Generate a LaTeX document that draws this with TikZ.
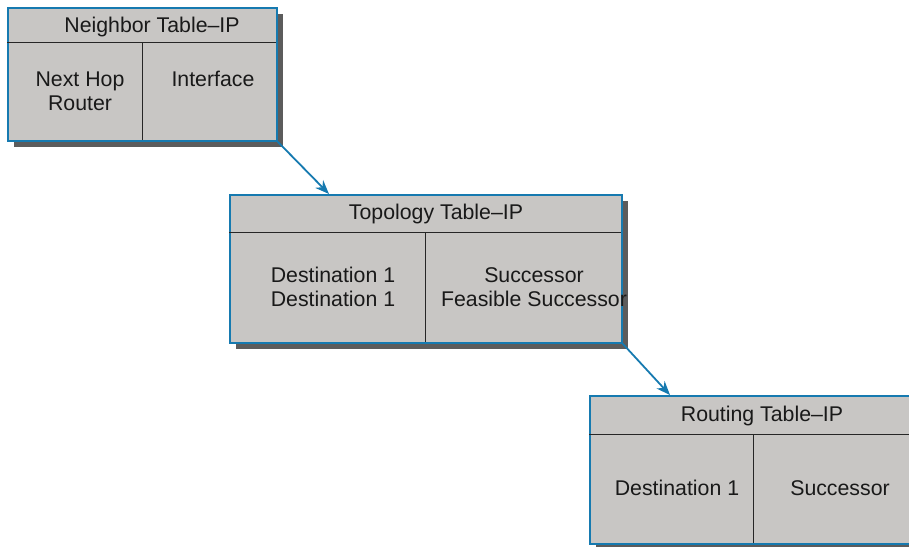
\documentclass[tikz,border=0pt]{standalone}
\usepackage{fontspec}
\setmainfont{Liberation Sans}
\usetikzlibrary{arrows.meta,shadows}
\definecolor{tblfill}{RGB}{200,198,196}
\definecolor{tblshade}{RGB}{92,92,92}
\definecolor{tblblue}{RGB}{22,122,176}

\begin{document}
\begin{tikzpicture}[x=1pt,y={(0pt,-1pt)},
  tbl/.style={draw=tblblue,line width=1.8pt,fill=tblfill,rectangle,inner sep=0pt,anchor=north west,
    drop shadow={shadow xshift=6pt,shadow yshift=-6pt,fill=tblshade,opacity=1}},
  rule/.style={line width=.9pt,black!85},
  lbl/.style={font=\fontsize{21.3}{24}\selectfont,align=center,inner sep=0pt,anchor=base,text=black!90},
  arr/.style={draw=tblblue,line width=1.8pt,-{Stealth[length=14pt,width=11pt]}}]
\clip (0,0) rectangle (909,546);

\node[tbl,minimum width=269pt,minimum height=133pt] (nbr) at (7,7) {};
\draw[rule] (7,42)--(276,42) (142,42)--(142,140);
\node[lbl] (nbrhead) at (152,32) {Neighbor Table--IP};
\node[lbl] (nbrhop) at (80,110) {Next Hop\\Router};
\node[lbl] (nbrif) at (213,86) {Interface};

\node[tbl,minimum width=392pt,minimum height=148pt] (topo) at (229,194) {};
\draw[rule] (229,232)--(621,232) (425,232)--(425,342);
\node[lbl] (topohead) at (436,219) {Topology Table--IP};
\node[lbl] (topodest) at (333,306) {Destination 1\\Destination 1};
\node[lbl] (toposucc) at (534,306) {Successor\\Feasible Successor};

\node[tbl,minimum width=328pt,minimum height=148pt] (rte) at (589,395) {};
\draw[rule] (589,434)--(917,434) (753,434)--(753,543);
\node[lbl] (rtehead) at (762,421) {Routing Table--IP};
\node[lbl] (rtedest) at (677,495) {Destination 1};
\node[lbl] (rtesucc) at (840,495) {Successor};

\draw[arr] (nbr.south east) -- ([xshift=100pt]topo.north west);
\draw[arr] (topo.south east) -- ([xshift=81pt]rte.north west);
\end{tikzpicture}
\end{document}
